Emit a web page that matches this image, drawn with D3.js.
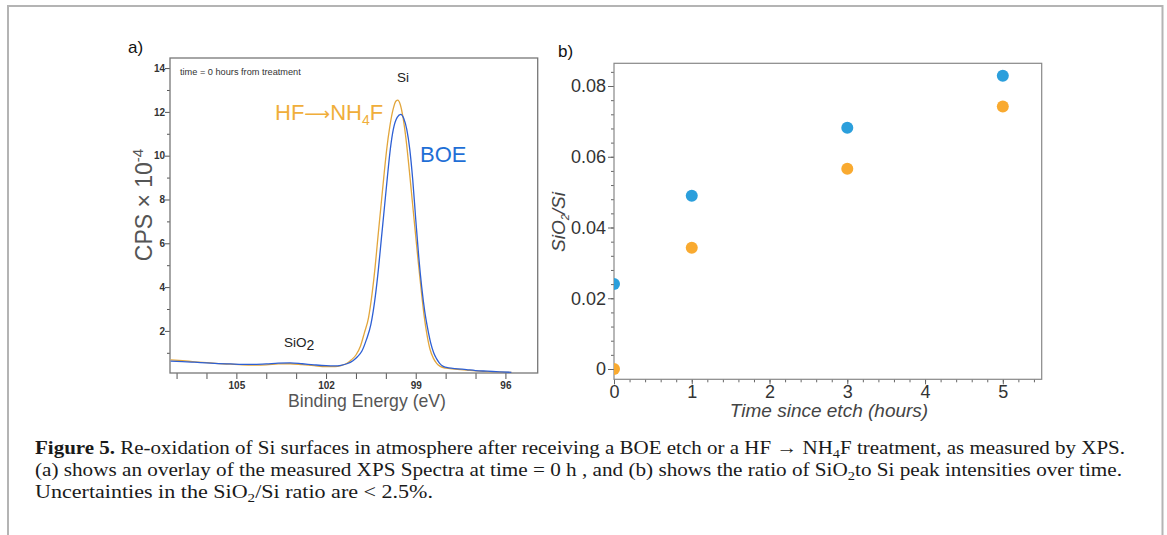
<!DOCTYPE html>
<html>
<head>
<meta charset="utf-8">
<script src="https://cdn.jsdelivr.net/npm/d3@7"></script>
<style>
  body { margin: 0; background: #fff; }
  svg { display: block; }
</style>
</head>
<body>
<svg width="1167" height="535"></svg>
<script>
// ---- panel a: XPS spectra (binding energy eV, CPS x 1e-4) ----
const boeSpectrum = [
  [107.2,0.62],[106.8,0.60],[106.4,0.57],[106.0,0.54],[105.6,0.51],[105.2,0.49],[104.8,0.47],
  [104.4,0.47],[104.0,0.49],[103.6,0.53],[103.2,0.54],[102.8,0.50],[102.4,0.45],[102.0,0.41],
  [101.7,0.40],[101.5,0.43],[101.3,0.50],[101.1,0.64],[100.95,0.82],[100.8,1.08],[100.65,1.6],
  [100.5,2.3],[100.35,3.6],[100.25,4.8],[100.15,6.2],[100.05,7.6],[99.95,9.0],[99.85,10.3],
  [99.75,11.2],[99.62,11.75],[99.5,11.89],[99.4,11.7],[99.3,11.2],[99.2,10.3],[99.1,8.9],
  [99.0,7.1],[98.9,5.4],[98.8,4.0],[98.7,2.9],[98.6,2.1],[98.5,1.45],[98.4,1.0],[98.3,0.72],
  [98.2,0.52],[98.08,0.38],[97.9,0.31],[97.6,0.27],[97.3,0.23],[97.0,0.19],[96.6,0.16],
  [96.2,0.13],[95.8,0.11]
];
const hfSpectrum = [
  [107.2,0.68],[106.8,0.64],[106.4,0.59],[106.0,0.55],[105.6,0.51],[105.2,0.48],[104.8,0.45],
  [104.4,0.44],[104.0,0.45],[103.6,0.49],[103.2,0.50],[102.8,0.46],[102.4,0.41],[102.0,0.37],
  [101.7,0.37],[101.5,0.41],[101.3,0.52],[101.15,0.68],[101.0,0.90],[100.85,1.3],[100.72,1.9],
  [100.58,2.6],[100.46,3.7],[100.36,4.9],[100.27,6.2],[100.17,7.6],[100.07,9.0],[99.97,10.3],
  [99.87,11.3],[99.76,12.1],[99.66,12.5],[99.6,12.54],[99.52,12.35],[99.42,11.7],[99.32,10.7],
  [99.22,9.4],[99.12,8.0],[99.02,6.6],[98.92,5.2],[98.82,3.9],[98.72,2.7],[98.62,1.8],
  [98.52,1.15],[98.42,0.78],[98.3,0.52],[98.18,0.38],[98.0,0.30],[97.7,0.26],[97.3,0.21],
  [97.0,0.17],[96.6,0.14],[96.2,0.12],[95.8,0.10]
];
const energyTicks = [107,106,105,104,103,102,101,100,99,98,97,96];
const energyLabels = [105,102,99,96];
const cpsTicks = [2,4,6,8,10,12,14];
const cpsMinorTicks = [1,3,5,7,9,11,13];

// ---- panel b: SiO2/Si ratio vs time ----
const hours = [0,1,3,5];
const boeRatio = [0.024,0.049,0.0682,0.0829];
const hfRatio = [0.0,0.0343,0.0566,0.0742];
const hourTicks = [0,1,2,3,4,5];
const ratioTicks = [0,0.02,0.04,0.06,0.08];

const svg = d3.select("svg");
const sans = "'Liberation Sans', Arial, Helvetica, sans-serif";

// outer figure frame
svg.append("path")
  .attr("d", "M8,535V6H1162.5V535")
  .attr("fill", "none")
  .attr("stroke", "#b4b4b4")
  .attr("stroke-width", 2);

// ================= panel a =================
const A = { left: 170, right: 537.7, top: 58, bottom: 373 };
const xA = d3.scaleLinear().domain([107.22, 94.92]).range([A.left, A.right]);
const yA = d3.scaleLinear().domain([0, 14.46]).range([374.7, 58]);

const gA = svg.append("g");
gA.append("clipPath").attr("id", "clipA")
  .append("rect")
  .attr("x", A.left).attr("y", A.top)
  .attr("width", A.right - A.left).attr("height", A.bottom - A.top);

gA.append("g")
  .attr("transform", `translate(${A.left},0)`)
  .call(d3.axisLeft(yA).tickValues(cpsTicks).tickSize(5).tickPadding(0).tickFormat(d3.format("d")));
gA.append("g")
  .attr("transform", `translate(${A.left},0)`)
  .call(d3.axisLeft(yA).tickValues(cpsMinorTicks).tickSize(3).tickFormat(""));
gA.append("g")
  .attr("transform", `translate(0,${A.bottom})`)
  .call(d3.axisBottom(xA).tickValues(energyTicks).tickSize(6).tickPadding(3)
    .tickFormat(d => energyLabels.includes(d) ? d : ""));
gA.selectAll(".domain").remove();
gA.selectAll(".tick line").attr("stroke", "#555");
gA.selectAll(".tick text")
  .attr("font-family", sans).attr("font-size", 10).attr("font-weight", "bold").attr("fill", "#333");

gA.append("rect")
  .attr("x", A.left).attr("y", A.top)
  .attr("width", A.right - A.left).attr("height", A.bottom - A.top)
  .attr("fill", "none").attr("stroke", "#777").attr("stroke-width", 1.3);

const lineA = d3.line()
  .x(d => xA(d[0]))
  .y(d => yA(d[1]))
  .curve(d3.curveMonotoneX);

const plotA = gA.append("g").attr("clip-path", "url(#clipA)");
plotA.append("path").datum(hfSpectrum)
  .attr("d", lineA).attr("fill", "none")
  .attr("stroke", "#e2a63c").attr("stroke-width", 1.3);
plotA.append("path").datum(boeSpectrum)
  .attr("d", lineA).attr("fill", "none")
  .attr("stroke", "#2d5fd4").attr("stroke-width", 1.3);

// panel a annotations
gA.append("text").attr("x", 128).attr("y", 53)
  .attr("font-family", sans).attr("font-size", 17).attr("fill", "#111").text("a)");
gA.append("text").attr("x", 180).attr("y", 75)
  .attr("font-family", sans).attr("font-size", 9.2).attr("fill", "#333")
  .text("time = 0 hours from treatment");
gA.append("text").attr("x", 403).attr("y", 82).attr("text-anchor", "middle")
  .attr("font-family", sans).attr("font-size", 13.5).attr("fill", "#222").text("Si");

const hfLabel = gA.append("text").attr("x", 275).attr("y", 120)
  .attr("font-family", sans).attr("font-size", 22).attr("fill", "#f0ae3a");
hfLabel.append("tspan").text("HF");
hfLabel.append("tspan").attr("font-family", "'DejaVu Sans', sans-serif").attr("font-size", 18).text("\u27F6");
hfLabel.append("tspan").text("NH");
hfLabel.append("tspan").attr("font-size", 14).attr("dy", 5).text("4");
hfLabel.append("tspan").attr("dy", -5).text("F");

gA.append("text").attr("x", 420).attr("y", 162)
  .attr("font-family", sans).attr("font-size", 22).attr("fill", "#1f6fd6").text("BOE");

const sio2Label = gA.append("text").attr("x", 284).attr("y", 347)
  .attr("font-family", sans).attr("font-size", 13.5).attr("fill", "#222");
sio2Label.append("tspan").text("SiO");
sio2Label.append("tspan").attr("dy", 3).attr("font-size", 14).text("2");

gA.append("text").attr("x", 367).attr("y", 407).attr("text-anchor", "middle")
  .attr("font-family", sans).attr("font-size", 19).attr("fill", "#555")
  .attr("textLength", 158).attr("lengthAdjust", "spacingAndGlyphs")
  .text("Binding Energy (eV)");

const cpsLabel = gA.append("text")
  .attr("transform", "translate(152,205) rotate(-90)")
  .attr("text-anchor", "middle")
  .attr("font-family", sans).attr("font-size", 23).attr("fill", "#555");
cpsLabel.append("tspan").text("CPS \u00d7 10");
cpsLabel.append("tspan").attr("font-size", 15).attr("dy", -9).text("-4");

// ================= panel b =================
const B = { left: 614, right: 1041.7, top: 63.3, bottom: 379.3 };
const xB = d3.scaleLinear().domain([0, 5.5]).range([B.left, B.right]);
const yB = d3.scaleLinear().domain([-0.00291, 0.08642]).range([B.bottom, B.top]);

const gB = svg.append("g");
gB.append("clipPath").attr("id", "clipB")
  .append("rect")
  .attr("x", B.left).attr("y", B.top)
  .attr("width", B.right - B.left).attr("height", B.bottom - B.top);

gB.append("g")
  .attr("transform", `translate(${B.left},0)`)
  .call(d3.axisLeft(yB).tickValues(ratioTicks).tickSize(6).tickPadding(2)
    .tickFormat(d => d === 0 ? "0" : d.toFixed(2)));
gB.append("g")
  .attr("transform", `translate(${B.left},0)`)
  .call(d3.axisLeft(yB).tickValues(d3.range(0, 0.0861, 0.004)).tickSize(3).tickFormat(""));
gB.append("g")
  .attr("transform", `translate(0,${B.bottom})`)
  .call(d3.axisBottom(xB).tickValues(hourTicks).tickSize(5).tickPadding(1).tickFormat(d3.format("d")));
gB.append("g")
  .attr("transform", `translate(0,${B.bottom})`)
  .call(d3.axisBottom(xB).tickValues(d3.range(0, 5.51, 0.2)).tickSize(3).tickFormat(""));
gB.selectAll(".domain").remove();
gB.selectAll(".tick line").attr("stroke", "#666");
gB.selectAll(".tick text")
  .attr("font-family", sans).attr("font-size", 18).attr("fill", "#333");

gB.append("rect")
  .attr("x", B.left).attr("y", B.top)
  .attr("width", B.right - B.left).attr("height", B.bottom - B.top)
  .attr("fill", "none").attr("stroke", "#888").attr("stroke-width", 1.2);

const plotB = gB.append("g").attr("clip-path", "url(#clipB)");
plotB.selectAll("circle.boe")
  .data(hours.map((h, i) => [h, boeRatio[i]]))
  .join("circle").attr("class", "boe")
  .attr("cx", d => xB(d[0])).attr("cy", d => yB(d[1])).attr("r", 6)
  .attr("fill", "#2b9fdc");
plotB.selectAll("circle.hf")
  .data(hours.map((h, i) => [h, hfRatio[i]]))
  .join("circle").attr("class", "hf")
  .attr("cx", d => xB(d[0])).attr("cy", d => yB(d[1])).attr("r", 6)
  .attr("fill", "#f9aa30");

gB.append("text").attr("x", 558).attr("y", 57)
  .attr("font-family", sans).attr("font-size", 17).attr("fill", "#111").text("b)");

gB.append("text").attr("x", 829).attr("y", 417).attr("text-anchor", "middle")
  .attr("font-family", sans).attr("font-size", 19).attr("font-style", "italic").attr("fill", "#444")
  .text("Time since etch (hours)");

const ratioLabel = gB.append("text")
  .attr("transform", "translate(565,222) rotate(-90)")
  .attr("text-anchor", "middle")
  .attr("font-family", sans).attr("font-size", 19).attr("font-style", "italic").attr("fill", "#444");
ratioLabel.append("tspan").text("SiO");
ratioLabel.append("tspan").attr("font-size", 11).attr("dy", 4).text("2");
ratioLabel.append("tspan").attr("dy", -4).text("/Si");

// ================= caption =================
const serif = "'Liberation Serif', 'Times New Roman', serif";
const cap = svg.append("g")
  .attr("font-family", serif).attr("font-size", 19).attr("fill", "#1a1a1a");

const line1 = cap.append("text").attr("x", 35).attr("y", 454)
  .attr("textLength", 1090).attr("lengthAdjust", "spacingAndGlyphs");
line1.append("tspan").attr("font-weight", "bold").text("Figure 5.");
line1.append("tspan").text(" Re-oxidation of Si surfaces in atmosphere after receiving a BOE etch or a HF \u2192 NH");
line1.append("tspan").attr("font-size", 13).attr("dy", 4).text("4");
line1.append("tspan").attr("dy", -4).text("F treatment, as measured by XPS.");

const line2 = cap.append("text").attr("x", 35).attr("y", 476)
  .attr("textLength", 1087).attr("lengthAdjust", "spacingAndGlyphs");
line2.append("tspan").text("(a) shows an overlay of the measured XPS Spectra at time = 0 h , and (b) shows the ratio of SiO");
line2.append("tspan").attr("font-size", 13).attr("dy", 4).text("2");
line2.append("tspan").attr("dy", -4).text("to Si peak intensities over time.");

const line3 = cap.append("text").attr("x", 35).attr("y", 498)
  .attr("textLength", 398).attr("lengthAdjust", "spacingAndGlyphs");
line3.append("tspan").text("Uncertainties in the SiO");
line3.append("tspan").attr("font-size", 13).attr("dy", 4).text("2");
line3.append("tspan").attr("dy", -4).text("/Si ratio are < 2.5%.");
</script>
</body>
</html>
